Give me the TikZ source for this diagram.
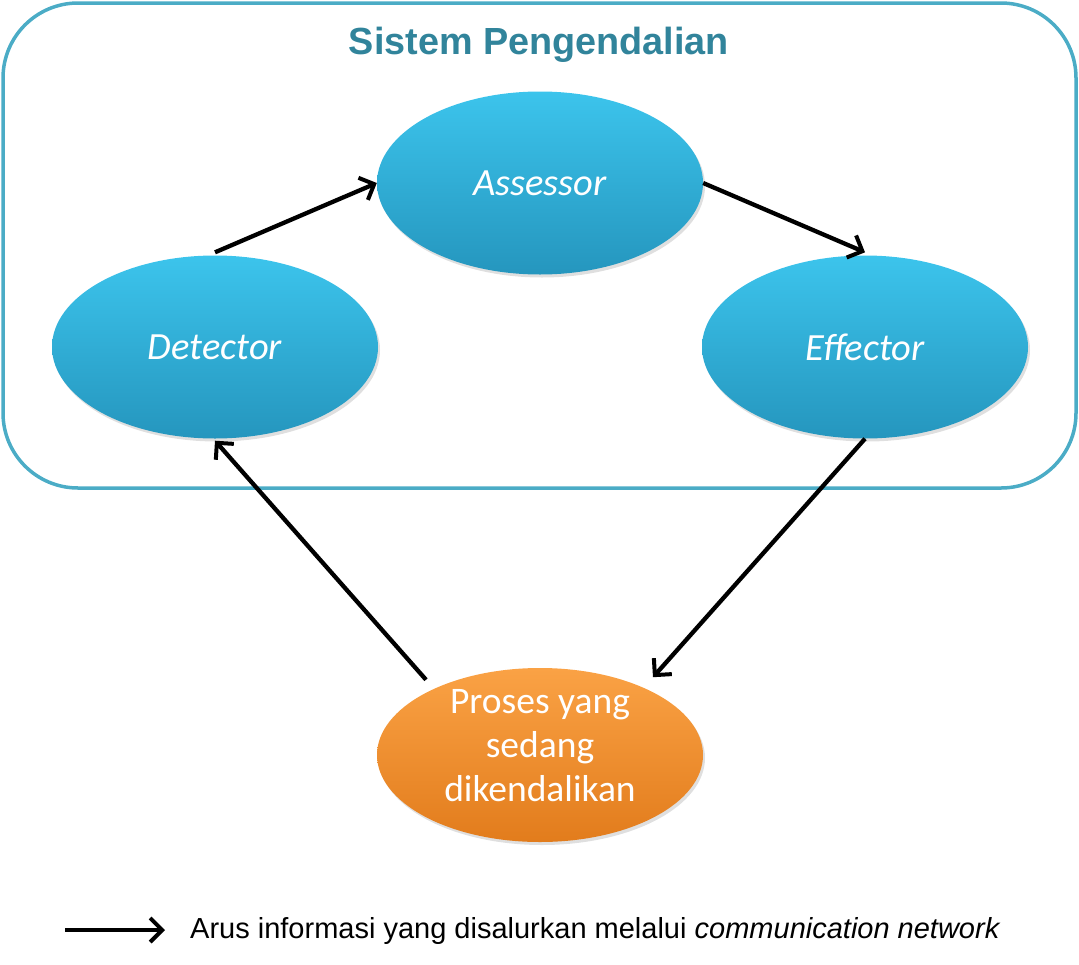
\documentclass[tikz,border=0pt]{standalone}
\usepackage{fontspec}
\setmainfont{Carlito}
\newfontfamily\arialf{Liberation Sans}
\usetikzlibrary{shapes.geometric,arrows.meta,shadows}
\definecolor{frame}{HTML}{4BACC6}
\definecolor{titlec}{HTML}{31849B}
\definecolor{bluetop}{HTML}{3CC4EC}
\definecolor{bluebot}{HTML}{2596BE}
\definecolor{orgtop}{HTML}{FAA245}
\definecolor{orgbot}{HTML}{E27C1C}
\begin{document}
\begin{tikzpicture}[x=1pt,y=-1pt,
  blueell/.style={ellipse, minimum width=326pt, minimum height=183pt, inner sep=0pt,
    top color=bluetop, bottom color=bluebot, draw=none, text=white,
    font=\fontsize{38.5}{44}\selectfont\itshape,
    drop shadow={shadow xshift=2pt, shadow yshift=-3pt, opacity=0.25}},
  orgell/.style={ellipse, minimum width=326pt, minimum height=174pt, inner sep=0pt,
    top color=orgtop, bottom color=orgbot, draw=none,
    drop shadow={shadow xshift=2pt, shadow yshift=-3pt, opacity=0.25}},
  orgtext/.style={text=white, align=center, font=\fontsize{37.5}{44}\selectfont, yshift=9pt},
  flow/.style={line width=4.3pt, black, -{Straight Barb[length=12pt,width=24pt,line width=4pt]}}
]
\useasboundingbox (0,0) rectangle (1079,964);
\draw[line width=3.5pt, frame, rounded corners=75pt] (3,3) rectangle (1076,488);
\node[text=titlec, font=\arialf\bfseries\fontsize{37.8}{42}\selectfont] (title) at (539,45) {Sistem Pengendalian};
\node[blueell] (ass) at (540,183) {Assessor};
\node[blueell] (det) at (215,347) {Detector};
\node[blueell] (eff) at (865,347) {Effector};
\node[orgell, label={[orgtext]center:Proses yang\\sedang\\dikendalikan}] (pro) at (540,755) {};
\draw[flow] ([yshift=3pt]det.north) -- (ass.west);
\draw[flow] (ass.east) -- ([yshift=3pt]eff.north);
\draw[flow, shorten >=14pt] (eff.south) -- (pro.33);
\draw[flow, shorten <=12pt] (pro.148) -- ([yshift=-2pt]det.south);
\coordinate (la) at (65,930);
\coordinate (lb) at (165,930);
\draw[flow] (la) -- (lb);
\node[anchor=west, inner sep=0pt, font=\arialf\fontsize{29}{33}\selectfont] (leg) at (190,931) {Arus informasi yang disalurkan melalui \textit{communication network}};
\end{tikzpicture}
\end{document}
